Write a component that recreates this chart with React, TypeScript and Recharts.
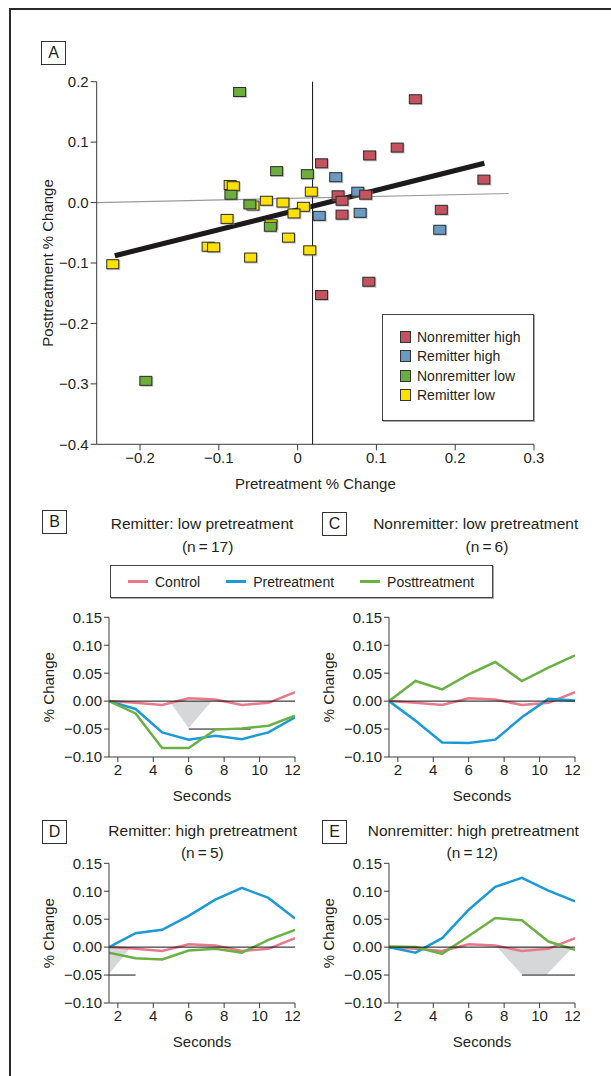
import React from 'react';
import {
  ComposedChart,
  Scatter,
  Line,
  Area,
  XAxis,
  YAxis,
  ReferenceLine,
  Label,
} from 'recharts';

const FONT = "'Liberation Sans', Arial, sans-serif";
const INK = '#231f20';
const AXIS = '#3a3a3a';

// ---- panel A: pretreatment vs posttreatment % change ----
const nonremitterHigh = [
  { x: 0.15, y: 0.171 },
  { x: 0.127, y: 0.091 },
  { x: 0.092, y: 0.078 },
  { x: 0.031, y: 0.065 },
  { x: 0.237, y: 0.038 },
  { x: 0.052, y: 0.012 },
  { x: 0.087, y: 0.013 },
  { x: 0.057, y: 0.003 },
  { x: 0.057, y: -0.02 },
  { x: 0.183, y: -0.012 },
  { x: 0.091, y: -0.131 },
  { x: 0.031, y: -0.153 },
];
const remitterHigh = [
  { x: 0.049, y: 0.042 },
  { x: 0.077, y: 0.018 },
  { x: 0.08, y: -0.017 },
  { x: 0.028, y: -0.022 },
  { x: 0.181, y: -0.045 },
];
const nonremitterLow = [
  { x: -0.073, y: 0.183 },
  { x: -0.026, y: 0.052 },
  { x: 0.013, y: 0.047 },
  { x: -0.084, y: 0.013 },
  { x: -0.06, y: -0.003 },
  { x: -0.034, y: -0.04 },
  { x: -0.192, y: -0.295 },
];
const remitterLow = [
  { x: -0.085, y: 0.029 },
  { x: -0.081, y: 0.027 },
  { x: 0.018, y: 0.018 },
  { x: -0.039, y: 0.003 },
  { x: -0.018, y: 0.0 },
  { x: 0.008, y: -0.007 },
  { x: -0.004, y: -0.018 },
  { x: -0.056, y: -0.005 },
  { x: -0.089, y: -0.027 },
  { x: -0.033, y: -0.036 },
  { x: -0.011, y: -0.058 },
  { x: -0.113, y: -0.073 },
  { x: -0.106, y: -0.074 },
  { x: 0.016, y: -0.079 },
  { x: -0.059, y: -0.091 },
  { x: -0.234, y: -0.102 },
];
const regression = [
  { x: -0.232, y: -0.088 },
  { x: 0.237, y: 0.065 },
];
const identityFit = [
  { x: -0.255, y: 0.0 },
  { x: 0.268, y: 0.015 },
];
const cutoffX = 0.019;
const aXTicks = [-0.2, -0.1, 0, 0.1, 0.2, 0.3];
const aYTicks = [-0.4, -0.3, -0.2, -0.1, 0, 0.1, 0.2];

const groups = [
  { name: 'Nonremitter high', color: '#c4525f', data: nonremitterHigh },
  { name: 'Remitter high', color: '#6a9bc3', data: remitterHigh },
  { name: 'Nonremitter low', color: '#6cae3c', data: nonremitterLow },
  { name: 'Remitter low', color: '#ffe100', data: remitterLow },
];

// ---- panels B-E: time courses ----
const seconds = [1.5, 3, 4.5, 6, 7.5, 9, 10.5, 12];
const control = [0, -0.003, -0.007, 0.005, 0.003, -0.007, -0.003, 0.016];
const preB = [0, -0.014, -0.056, -0.069, -0.062, -0.068, -0.056, -0.029];
const postB = [0, -0.022, -0.084, -0.084, -0.051, -0.049, -0.044, -0.026];
const preC = [0, -0.035, -0.074, -0.075, -0.069, -0.029, 0.004, 0.001];
const postC = [0, 0.036, 0.021, 0.048, 0.07, 0.036, 0.06, 0.082];
const preD = [0, 0.025, 0.031, 0.056, 0.085, 0.106, 0.088, 0.051];
const postD = [-0.01, -0.02, -0.022, -0.006, -0.003, -0.01, 0.013, 0.031];
const preE = [0, -0.01, 0.016, 0.067, 0.108, 0.124, 0.101, 0.082];
const postE = [0.001, 0, -0.012, 0.02, 0.052, 0.048, 0.01, -0.005];

const shadeB = [
  { x: 4.9, y: 0 },
  { x: 6, y: -0.048 },
  { x: 7.3, y: 0 },
];
const shadeD = [
  { x: 1.5, y: -0.048 },
  { x: 2.75, y: 0 },
];
const shadeE = [
  { x: 7.6, y: 0 },
  { x: 9, y: -0.049 },
  { x: 10.4, y: -0.049 },
  { x: 11.9, y: 0 },
];
const barB = [6, 9.5];
const barD = [1.5, 3];
const barE = [9, 12];

const tXTicks = [2, 4, 6, 8, 10, 12];
const tYTicks = [-0.1, -0.05, 0, 0.05, 0.1, 0.15];

const seriesStyle = [
  { name: 'Control', color: '#e9788a' },
  { name: 'Pretreatment', color: '#1b9ad6' },
  { name: 'Posttreatment', color: '#6ab045' },
];

const toPoints = (ys: number[]) => seconds.map((x, i) => ({ x, y: ys[i] }));

const minus = (s: string) => s.replace('-', '\u2212');
const fmtAX = (v: number) => (v === 0 ? '0' : minus(v.toFixed(1)));
const fmtAY = (v: number) => minus(v.toFixed(1));
const fmtT = (v: number) => minus(v.toFixed(2));

const xTitle = (text: string, dy: number) => (props: any) => {
  const vb = props.viewBox;
  return (
    <text
      x={vb.x + vb.width / 2}
      y={vb.y + dy}
      textAnchor="middle"
      fill={INK}
      fontSize={15}
      fontFamily={FONT}
    >
      {text}
    </text>
  );
};

const yTitle = (text: string, dx: number) => (props: any) => {
  const vb = props.viewBox;
  const cx = vb.x + dx;
  const cy = vb.y + vb.height / 2;
  return (
    <text
      x={cx}
      y={cy}
      transform={`rotate(-90 ${cx} ${cy})`}
      textAnchor="middle"
      dominantBaseline="central"
      fill={INK}
      fontSize={15}
      fontFamily={FONT}
    >
      {text}
    </text>
  );
};

const squareShape = (color: string) => (props: any) => {
  const { cx, cy } = props;
  if (cx == null || cy == null) return <g />;
  return (
    <g>
      <rect x={cx - 6} y={cy - 4} width={13} height={10} fill="#9a9a9a" opacity={0.55} />
      <rect x={cx - 6.5} y={cy - 4.5} width={12} height={9} fill={color} stroke="#2a2a2a" strokeWidth={1} />
    </g>
  );
};

const LetterBox = ({ letter, left, top }: { letter: string; left: number; top: number }) => (
  <div
    style={{
      position: 'absolute',
      left,
      top,
      width: 23,
      height: 22,
      border: '1px solid #333',
      fontSize: 16,
      lineHeight: '22px',
      textAlign: 'center',
      color: INK,
    }}
  >
    {letter}
  </div>
);

const ScatterPanel = () => (
  <div style={{ position: 'absolute', left: 0, top: 0 }}>
    <ComposedChart
      width={611}
      height={500}
      margin={{ top: 81.7, right: 77, bottom: 25.7, left: 36.7 }}
    >
      <XAxis
        type="number"
        dataKey="x"
        domain={[-0.255, 0.3]}
        ticks={aXTicks}
        tickFormatter={fmtAX}
        allowDataOverflow
        height={30}
        stroke={AXIS}
        tick={{ fill: INK, fontSize: 15, fontFamily: FONT }}
        tickSize={6}
      >
        <Label content={xTitle('Pretreatment % Change', 44.7)} />
      </XAxis>
      <YAxis
        type="number"
        domain={[-0.4, 0.2]}
        ticks={aYTicks}
        tickFormatter={fmtAY}
        allowDataOverflow
        width={60}
        stroke={AXIS}
        tick={{ fill: INK, fontSize: 15, fontFamily: FONT }}
        tickSize={6}
      >
        <Label content={yTitle('Posttreatment % Change', 10.3)} />
      </YAxis>
      <Line
        data={identityFit}
        dataKey="y"
        stroke="#9a9a9a"
        strokeWidth={1.2}
        dot={false}
        isAnimationActive={false}
      />
      <Line
        data={regression}
        dataKey="y"
        stroke="#1c1a1a"
        strokeWidth={5}
        dot={false}
        isAnimationActive={false}
      />
      {[...groups].reverse().map((g) => (
        <Scatter
          key={g.name}
          name={g.name}
          data={g.data}
          dataKey="y"
          fill={g.color}
          shape={squareShape(g.color)}
          isAnimationActive={false}
        />
      ))}
      <ReferenceLine x={cutoffX} stroke="#111" strokeWidth={1} />
    </ComposedChart>
    <div
      style={{
        position: 'absolute',
        left: 382,
        top: 314,
        width: 150,
        height: 105,
        border: '1px solid #444',
        boxShadow: '1px 1px 0 #aaa',
        background: '#fff',
      }}
    >
      {groups.map((g, i) => (
        <div
          key={g.name}
          style={{
            position: 'absolute',
            left: 17,
            top: 14 + i * 19.3,
            display: 'flex',
            alignItems: 'center',
            fontSize: 14,
            color: INK,
            whiteSpace: 'nowrap',
          }}
        >
          <span
            style={{
              display: 'inline-block',
              width: 9,
              height: 10,
              background: g.color,
              border: '1px solid #333',
              marginRight: 6,
            }}
          />
          {g.name}
        </div>
      ))}
    </div>
  </div>
);

type PanelCfg = {
  letter: string;
  title: string;
  n: string;
  left: number;
  top: number;
  boxTop: number;
  titleTop: number;
  centers: number[];
  pre: number[];
  post: number[];
  shade: { x: number; y: number }[];
  bar: number[];
};

const panels: PanelCfg[] = [
  { letter: 'B', title: 'Remitter: low pretreatment', n: '17', left: 0, top: 600, boxTop: 510, titleTop: 513, centers: [202, 207.7], pre: preB, post: postB, shade: shadeB, bar: barB },
  { letter: 'C', title: 'Nonremitter: low pretreatment', n: '6', left: 280, top: 600, boxTop: 511.5, titleTop: 513, centers: [475.7, 487], pre: preC, post: postC, shade: [], bar: [] },
  { letter: 'D', title: 'Remitter: high pretreatment', n: '5', left: 0, top: 846, boxTop: 820, titleTop: 819.7, centers: [202.7, 202.3], pre: preD, post: postD, shade: shadeD, bar: barD },
  { letter: 'E', title: 'Nonremitter: high pretreatment', n: '12', left: 280, top: 846, boxTop: 820, titleTop: 819.7, centers: [473.3, 472.3], pre: preE, post: postE, shade: shadeE, bar: barE },
];

const TimePanel = ({ cfg }: { cfg: PanelCfg }) => (
  <>
    <LetterBox letter={cfg.letter} left={cfg.left + 42} top={cfg.boxTop} />
    {[cfg.title, `(n\u2009=\u2009${cfg.n})`].map((t, i) => (
      <div
        key={i}
        style={{
          position: 'absolute',
          left: cfg.centers[i] - 150,
          width: 300,
          top: cfg.titleTop + i * 22.5,
          lineHeight: '22px',
          fontSize: 15.5,
          textAlign: 'center',
          color: INK,
        }}
      >
        {t}
      </div>
    ))}
    <div style={{ position: 'absolute', left: cfg.left, top: cfg.top }}>
      <ComposedChart
        width={300}
        height={212}
        margin={{ top: 17.3, right: 5, bottom: 10, left: 49 }}
      >
        <XAxis
          type="number"
          dataKey="x"
          domain={[1.5, 12]}
          ticks={tXTicks}
          allowDataOverflow
          height={45}
          stroke={AXIS}
          tick={{ fill: INK, fontSize: 15, fontFamily: FONT }}
          tickSize={5}
        >
          <Label content={xTitle('Seconds', 44)} />
        </XAxis>
        <YAxis
          type="number"
          domain={[-0.1, 0.15]}
          ticks={tYTicks}
          tickFormatter={fmtT}
          allowDataOverflow
          width={60}
          stroke={AXIS}
          tick={{ fill: INK, fontSize: 15, fontFamily: FONT }}
          tickSize={5}
        >
          <Label content={yTitle('% Change', -0.7)} />
        </YAxis>
        {cfg.shade.length > 0 && (
          <Area
            data={cfg.shade}
            dataKey="y"
            baseValue={0}
            type="linear"
            stroke="none"
            fill="#d6d7d9"
            fillOpacity={1}
            isAnimationActive={false}
          />
        )}
        {cfg.bar.length > 0 && (
          <ReferenceLine
            segment={[
              { x: cfg.bar[0], y: -0.05 },
              { x: cfg.bar[1], y: -0.05 },
            ]}
            stroke="#111"
            strokeWidth={1}
          />
        )}
        <Line data={toPoints(control)} dataKey="y" stroke={seriesStyle[0].color} strokeWidth={2.5} dot={false} isAnimationActive={false} />
        <Line data={toPoints(cfg.pre)} dataKey="y" stroke={seriesStyle[1].color} strokeWidth={2.5} dot={false} isAnimationActive={false} />
        <Line data={toPoints(cfg.post)} dataKey="y" stroke={seriesStyle[2].color} strokeWidth={2.5} dot={false} isAnimationActive={false} />
        <ReferenceLine y={0} stroke="#111" strokeWidth={1} />
      </ComposedChart>
    </div>
  </>
);

const SeriesLegend = () => (
  <div
    style={{
      position: 'absolute',
      left: 110,
      top: 565,
      width: 364,
      height: 31,
      border: '1px solid #444',
      boxShadow: '1px 1px 0 #aaa',
      display: 'flex',
      alignItems: 'center',
      paddingLeft: 17,
      boxSizing: 'content-box',
      gap: 26,
      fontSize: 14,
      color: INK,
    }}
  >
    {seriesStyle.map((s) => (
      <div key={s.name} style={{ display: 'flex', alignItems: 'center', whiteSpace: 'nowrap' }}>
        <span
          style={{
            display: 'inline-block',
            width: 20,
            height: 3,
            background: s.color,
            marginRight: 7,
          }}
        />
        {s.name}
      </div>
    ))}
  </div>
);

export default function App() {
  return (
    <div
      style={{
        position: 'absolute',
        left: 0,
        top: 0,
        width: 611,
        height: 1076,
        overflow: 'hidden',
        background: '#fff',
        fontFamily: FONT,
      }}
    >
      <div
        style={{
          position: 'absolute',
          left: 9,
          top: 8,
          width: 800,
          height: 1200,
          borderLeft: '2px solid #2b2b2b',
          borderTop: '2px solid #2b2b2b',
        }}
      />
      <LetterBox letter="A" left={41} top={41} />
      <ScatterPanel />
      <SeriesLegend />
      {panels.map((p) => (
        <TimePanel key={p.letter} cfg={p} />
      ))}
    </div>
  );
}
